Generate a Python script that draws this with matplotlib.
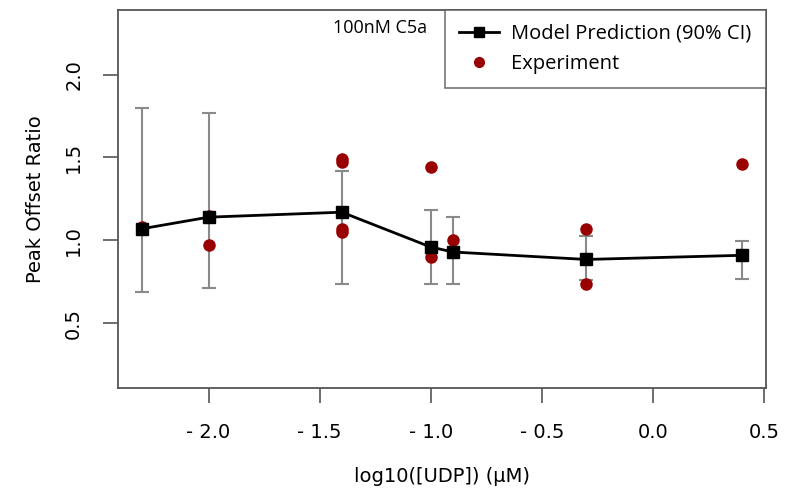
import numpy as np
import matplotlib.pyplot as plt

# model prediction with 90% CI
model_x = [-2.3, -2.0, -1.4, -1.0, -0.9, -0.3, 0.4]
model_y = [1.07, 1.14, 1.17, 0.96, 0.93, 0.885, 0.91]
ci_low = [0.69, 0.71, 0.735, 0.735, 0.735, 0.76, 0.765]
ci_high = [1.80, 1.77, 1.42, 1.185, 1.14, 1.025, 0.995]

# experiment points
exp_x = [-2.3, -2.0, -2.0, -1.4, -1.4, -1.4, -1.4, -1.0, -1.0, -1.0, -0.9, -0.3, -0.3, 0.4]
exp_y = [1.08, 1.15, 0.97, 1.49, 1.47, 1.07, 1.05, 1.44, 0.96, 0.90, 1.00, 1.07, 0.74, 1.46]

plt.rcParams['font.family'] = ['Open Sans', 'DejaVu Sans']
tickfont = ['DejaVu Sans']

fig = plt.figure(figsize=(7.91, 4.93), dpi=100)
ax = fig.add_axes([0.149, 0.213, 0.819, 0.767])

yerr = [np.array(model_y) - np.array(ci_low), np.array(ci_high) - np.array(model_y)]
ax.errorbar(model_x, model_y, yerr=yerr, fmt='none', ecolor='#8a8a8a',
            elinewidth=1.5, capsize=5, capthick=1.5, zorder=1)
ax.plot(model_x, model_y, '-', color='black', lw=2, zorder=2)
ax.plot(exp_x, exp_y, 'o', color='#990000', ms=8, zorder=3)
ax.plot(model_x, model_y, 's', color='black', ms=8, zorder=4)
line_handle, = ax.plot([], [], '-s', color='black', lw=2, ms=7)
dot_handle, = ax.plot([], [], 'o', color='#990000', ms=7)

ax.set_xlim(-2.408, 0.508)
ax.set_ylim(0.11, 2.39)
ax.set_xticks([-2.0, -1.5, -1.0, -0.5, 0.0, 0.5])
ax.set_xticklabels(['- 2.0', '- 1.5', '- 1.0', '- 0.5', '0.0', '0.5'], family=tickfont, fontsize=14)
ax.set_yticks([0.5, 1.0, 1.5, 2.0])
ax.set_yticklabels(['0.5', '1.0', '1.5', '2.0'], family=tickfont, fontsize=14,
                   rotation=90, va='center')
ax.tick_params(length=11, width=1.2, color='#555555', pad=14)
for s in ax.spines.values():
    s.set_color('#555555')
    s.set_linewidth(1.3)

ax.set_xlabel('log10([UDP]) (µM)', family=tickfont, fontsize=14, labelpad=18)
ax.set_ylabel('Peak Offset Ratio', family=tickfont, fontsize=14, labelpad=14)

ax.text(0.405, 0.952, '100nM C5a', transform=ax.transAxes, fontsize=13,
        ha='center', va='center')

leg = ax.legend([line_handle, dot_handle], ['Model Prediction (90% CI)', 'Experiment'],
                loc='upper right', fontsize=14.5, frameon=True, fancybox=False,
                borderaxespad=0, handlelength=2, labelspacing=0.5,
                borderpad=0.7, handletextpad=0.6)
leg.get_frame().set_edgecolor('#555555')
leg.get_frame().set_linewidth(1.2)

fig.savefig('out.png', dpi=100)
